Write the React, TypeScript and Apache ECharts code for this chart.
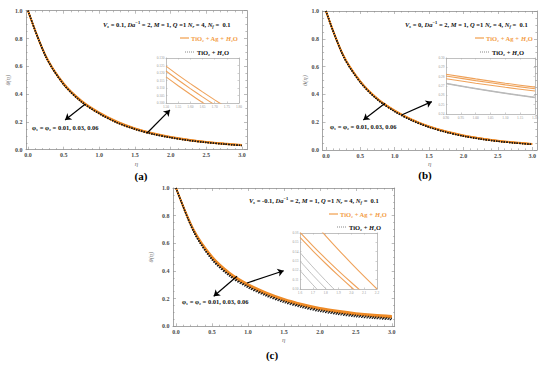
import React, { useEffect, useRef } from "react";
import * as echarts from "echarts";

// ---------------- data ----------------
const eta = [0, 0.25, 0.5, 0.75, 1, 1.25, 1.5, 1.75, 2, 2.25, 2.5, 2.75, 3];

// (a) Vs = 0.1
const thetaA_hybrid_001 = [1, 0.670, 0.470, 0.345, 0.260, 0.195, 0.148, 0.113, 0.088, 0.068, 0.053, 0.041, 0.031];
const thetaA_hybrid_003 = [1, 0.672, 0.473, 0.348, 0.263, 0.198, 0.151, 0.116, 0.090, 0.070, 0.055, 0.043, 0.033];
const thetaA_hybrid_006 = [1, 0.675, 0.477, 0.352, 0.267, 0.202, 0.154, 0.119, 0.093, 0.073, 0.057, 0.045, 0.035];
const thetaA_mono_001 = [1, 0.668, 0.468, 0.343, 0.258, 0.193, 0.146, 0.111, 0.086, 0.066, 0.051, 0.040, 0.030];
const thetaA_mono_003 = [1, 0.669, 0.469, 0.344, 0.259, 0.194, 0.147, 0.112, 0.087, 0.067, 0.052, 0.040, 0.030];
const thetaA_mono_006 = [1, 0.670, 0.471, 0.346, 0.261, 0.196, 0.149, 0.114, 0.088, 0.068, 0.053, 0.041, 0.031];

// (b) Vs = 0
const thetaB_hybrid_001 = [1, 0.680, 0.490, 0.365, 0.280, 0.215, 0.167, 0.130, 0.102, 0.081, 0.064, 0.052, 0.042];
const thetaB_hybrid_003 = [1, 0.682, 0.492, 0.367, 0.282, 0.217, 0.169, 0.132, 0.104, 0.083, 0.066, 0.053, 0.043];
const thetaB_hybrid_006 = [1, 0.684, 0.494, 0.369, 0.284, 0.219, 0.171, 0.134, 0.106, 0.084, 0.067, 0.054, 0.044];
const thetaB_mono_001 = [1, 0.677, 0.486, 0.361, 0.276, 0.211, 0.163, 0.127, 0.099, 0.078, 0.062, 0.050, 0.040];
const thetaB_mono_003 = [1, 0.678, 0.487, 0.362, 0.277, 0.212, 0.164, 0.128, 0.100, 0.079, 0.062, 0.050, 0.040];
const thetaB_mono_006 = [1, 0.679, 0.488, 0.363, 0.278, 0.213, 0.165, 0.128, 0.100, 0.079, 0.063, 0.051, 0.041];

// (c) Vs = -0.1
const thetaC_hybrid_001 = [1, 0.685, 0.495, 0.374, 0.294, 0.234, 0.187, 0.151, 0.122, 0.101, 0.084, 0.072, 0.064];
const thetaC_hybrid_003 = [1, 0.690, 0.500, 0.380, 0.300, 0.240, 0.193, 0.157, 0.128, 0.107, 0.090, 0.078, 0.070];
const thetaC_hybrid_006 = [1, 0.695, 0.506, 0.386, 0.306, 0.246, 0.199, 0.163, 0.134, 0.113, 0.096, 0.084, 0.076];
const thetaC_mono_001 = [1, 0.676, 0.480, 0.359, 0.279, 0.219, 0.172, 0.136, 0.107, 0.086, 0.069, 0.057, 0.048];
const thetaC_mono_003 = [1, 0.680, 0.485, 0.365, 0.285, 0.225, 0.178, 0.142, 0.113, 0.092, 0.075, 0.063, 0.053];
const thetaC_mono_006 = [1, 0.684, 0.490, 0.370, 0.290, 0.230, 0.183, 0.147, 0.118, 0.097, 0.080, 0.068, 0.058];

// insets (zoomed views)
const insetA_eta = [1.5, 1.55, 1.6, 1.65, 1.7, 1.75];
const insetA_hybrid_001 = [0.1174, 0.1115, 0.1058, 0.1003, 0.0950, 0.0899];
const insetA_hybrid_003 = [0.1213, 0.1153, 0.1096, 0.1041, 0.0988, 0.0937];
const insetA_hybrid_006 = [0.1246, 0.1186, 0.1129, 0.1074, 0.1021, 0.0970];

const insetB_eta = [0.9, 1.0, 1.1, 1.2];
const insetB_hybrid_001 = [0.2778, 0.2730, 0.2686, 0.2646];
const insetB_hybrid_003 = [0.2808, 0.2758, 0.2712, 0.2670];
const insetB_hybrid_006 = [0.2826, 0.2776, 0.2730, 0.2688];
const insetB_mono_001 = [0.2724, 0.2669, 0.2619, 0.2574];
const insetB_mono_003 = [0.2727, 0.2672, 0.2622, 0.2577];
const insetB_mono_006 = [0.2730, 0.2675, 0.2625, 0.2580];

const insetC_eta = [1.6, 1.7, 1.8, 1.9, 2.0, 2.1, 2.2];
const insetC_hybrid_001 = [0.1552, 0.1409, 0.1273, 0.1143, 0.1019, 0.0900, 0.0790];
const insetC_hybrid_003 = [0.1607, 0.1463, 0.1326, 0.1195, 0.1070, 0.0950, 0.0840];
const insetC_hybrid_006 = [0.1885, 0.1725, 0.1570, 0.1420, 0.1275, 0.1135, 0.1000];
const insetC_mono_001 = [0.1198, 0.1045, 0.0900, 0.0765, 0.0640, 0.0525, 0.0420];
const insetC_mono_003 = [0.1300, 0.1148, 0.1005, 0.0868, 0.0740, 0.0620, 0.0510];
const insetC_mono_006 = [0.1390, 0.1236, 0.1090, 0.0950, 0.0820, 0.0700, 0.0590];

// ticks
const xMajorTicks = [0, 0.5, 1, 1.5, 2, 2.5, 3];
const xMinorTicks = [0.1, 0.2, 0.3, 0.4, 0.6, 0.7, 0.8, 0.9, 1.1, 1.2, 1.3, 1.4, 1.6, 1.7, 1.8, 1.9, 2.1, 2.2, 2.3, 2.4, 2.6, 2.7, 2.8, 2.9];
const yMajorTicks = [0, 0.2, 0.4, 0.6, 0.8, 1];
const yMinorTicks = [0.05, 0.1, 0.15, 0.25, 0.3, 0.35, 0.45, 0.5, 0.55, 0.65, 0.7, 0.75, 0.85, 0.9, 0.95];

const insetA_xTicks = [1.5, 1.55, 1.6, 1.65, 1.7, 1.75, 1.8];
const insetA_yTicks = [0.1, 0.105, 0.11, 0.115, 0.12, 0.125, 0.13];
const insetB_xTicks = [0.9, 0.95, 1.0, 1.05, 1.1, 1.15, 1.2];
const insetB_yTicks = [0.24, 0.25, 0.26, 0.27, 0.28, 0.29, 0.3];
const insetC_xTicks = [1.6, 1.7, 1.8, 1.9, 2.0, 2.1, 2.2];
const insetC_yTicks = [0.1, 0.11, 0.12, 0.13, 0.14, 0.15, 0.16];

// arrows: [fromEta, fromTheta, toEta, toTheta]
const arrowsA = [[0.80, 0.327, 0.52, 0.214], [1.67, 0.120, 1.99, 0.286]];
const arrowsB = [[0.86, 0.336, 0.544, 0.216], [1.10, 0.252, 1.54, 0.348]];
const arrowsC = [[0.848, 0.362, 0.524, 0.217], [0.987, 0.313, 1.497, 0.402]];

const vsLabels = ["0.1", "0", "-0.1"];
const panelLetters = ["(a)", "(b)", "(c)"];
const phiText = "φ₁ = φ₂ = 0.01, 0.03, 0.06";

// ---------------- styles / layout ----------------
const FONT = "'Liberation Serif', 'DejaVu Serif', serif";
const ORANGE = "#EE8A26";
const ORANGE_TEXT = "#F39C45";
const INSET_GRAY = "#b8b8b8";
const FRAME = "#8f8f8f";
const TICK_LABEL = "#4a4a4a";

const mainLayout = [
  { left: 26, top: 10.7, width: 221, height: 139, xMin: -0.028, xMax: 3.07, xGap: 10.5, yGap: 12.8 },
  { left: 322.5, top: 11, width: 214.5, height: 139, xMin: -0.05, xMax: 3.07, xGap: 10.5, yGap: 8.5 },
  { left: 173, top: 188, width: 221.7, height: 138.3, xMin: -0.042, xMax: 3.04, xGap: 10, yGap: 19.5 },
];
const insetLayout = [
  { left: 166, top: 58, width: 73, height: 45 },
  { left: 446, top: 58, width: 89, height: 56 },
  { left: 300, top: 233, width: 77, height: 56 },
];
const legendLayout = [
  { row1: [103, 24], row2: [180, 38], row3: [185, 52], phi: [32, 127], letter: [141, 176] },
  { row1: [405, 24], row2: [475, 38], row3: [480, 52], phi: [330, 126], letter: [425, 175] },
  { row1: [249, 200], row2: [329, 214], row3: [337, 227], phi: [182, 301], letter: [272, 355] },
];

const rich = (color: string) => ({
  n: { fontFamily: FONT, fontSize: 6.5, fontWeight: "bold", fill: color, lineHeight: 9 },
  v: { fontFamily: FONT, fontSize: 6.5, fontWeight: "bold", fontStyle: "italic", fill: color, lineHeight: 9 },
  sub: { fontFamily: FONT, fontSize: 4.5, fontWeight: "bold", fontStyle: "italic", fill: color, lineHeight: 5, verticalAlign: "bottom" },
  sup: { fontFamily: FONT, fontSize: 4.5, fontWeight: "bold", fill: color, lineHeight: 5, verticalAlign: "top" },
});

function frameAxis(gi: number, position: string, min: number, max: number, ticks: number[], tickLen: number, label: any, lineShow: boolean, color: string, extra: any = {}) {
  return {
    type: "value",
    gridIndex: gi,
    position,
    min,
    max,
    axisLine: { show: lineShow, onZero: false, lineStyle: { color, width: 0.8 } },
    axisTick: { show: true, inside: true, length: tickLen, customValues: ticks, lineStyle: { color, width: 0.6 } },
    axisLabel: label ? { ...label, customValues: ticks } : { show: false },
    splitLine: { show: false },
    ...extra,
  };
}

function lineSeries(xi: number, yi: number, xs: number[], ys: number[], lineStyle: any, z: number) {
  return {
    type: "line",
    xAxisIndex: xi,
    yAxisIndex: yi,
    data: xs.map((e, i) => [e, ys[i]]),
    smooth: 0.3,
    showSymbol: false,
    symbol: "none",
    silent: true,
    z,
    lineStyle,
  };
}

function buildOption() {
  const grid: any[] = [];
  const xAxis: any[] = [];
  const yAxis: any[] = [];
  const series: any[] = [];
  const graphic: any[] = [];

  const hybridSets = [
    [thetaA_hybrid_001, thetaA_hybrid_003, thetaA_hybrid_006],
    [thetaB_hybrid_001, thetaB_hybrid_003, thetaB_hybrid_006],
    [thetaC_hybrid_001, thetaC_hybrid_003, thetaC_hybrid_006],
  ];
  const monoSets = [
    [thetaA_mono_001, thetaA_mono_003, thetaA_mono_006],
    [thetaB_mono_001, thetaB_mono_003, thetaB_mono_006],
    [thetaC_mono_001, thetaC_mono_003, thetaC_mono_006],
  ];
  const arrowSets = [arrowsA, arrowsB, arrowsC];

  const tickLabel = {
    show: true,
    fontSize: 6,
    fontFamily: FONT,
    fontWeight: "bold",
    color: TICK_LABEL,
    margin: 3.5,
    formatter: (v: number) => v.toFixed(1),
  };

  mainLayout.forEach((L, p) => {
    grid.push({ left: L.left, top: L.top, width: L.width, height: L.height });
    const gi = grid.length - 1;
    const xi = xAxis.length;
    const yi = yAxis.length;
    xAxis.push(
      frameAxis(gi, "bottom", L.xMin, L.xMax, xMajorTicks, 3, { ...tickLabel, margin: 2.5 }, true, FRAME, {
        name: "η",
        nameLocation: "middle",
        nameGap: L.xGap,
        nameTextStyle: { fontFamily: FONT, fontStyle: "italic", fontSize: 7, color: "#777" },
      }),
      frameAxis(gi, "top", L.xMin, L.xMax, xMajorTicks, 3, null, true, FRAME),
      frameAxis(gi, "bottom", L.xMin, L.xMax, xMinorTicks, 1.6, null, false, FRAME),
      frameAxis(gi, "top", L.xMin, L.xMax, xMinorTicks, 1.6, null, false, FRAME)
    );
    yAxis.push(
      frameAxis(gi, "left", 0, 1, yMajorTicks, 3, tickLabel, true, FRAME, {
        name: "θ(η)",
        nameLocation: "middle",
        nameGap: L.yGap,
        nameRotate: 90,
        nameTextStyle: { fontFamily: FONT, fontStyle: "italic", fontSize: 6.5, color: "#777" },
      }),
      frameAxis(gi, "right", 0, 1, yMajorTicks, 3, null, true, FRAME),
      frameAxis(gi, "left", 0, 1, yMinorTicks, 1.6, null, false, FRAME),
      frameAxis(gi, "right", 0, 1, yMinorTicks, 1.6, null, false, FRAME)
    );

    hybridSets[p].forEach((vals, k) => {
      const s: any = lineSeries(xi, yi, eta, vals, { color: ORANGE, width: 1.8 }, 3);
      if (k === 0) {
        s.markLine = {
          silent: true,
          animation: false,
          symbol: ["none", "arrow"],
          symbolSize: 6,
          label: { show: false },
          lineStyle: { color: "#000", width: 1.2, type: "solid" },
          data: arrowSets[p].map((a) => [{ coord: [a[0], a[1]] }, { coord: [a[2], a[3]] }]),
        };
      }
      series.push(s);
    });
    monoSets[p].forEach((vals) => {
      series.push(lineSeries(xi, yi, eta, vals, { color: "#1a1a1a", width: 1.3, type: [1.2, 1.4] }, 4));
    });
  });

  // insets
  const insetData = [
    { eta: insetA_eta, hybrid: [insetA_hybrid_001, insetA_hybrid_003, insetA_hybrid_006], mono: [] as number[][], xt: insetA_xTicks, yt: insetA_yTicks, fx: 2, fy: 3 },
    { eta: insetB_eta, hybrid: [insetB_hybrid_001, insetB_hybrid_003, insetB_hybrid_006], mono: [insetB_mono_001, insetB_mono_003, insetB_mono_006], xt: insetB_xTicks, yt: insetB_yTicks, fx: 2, fy: 2 },
    { eta: insetC_eta, hybrid: [insetC_hybrid_001, insetC_hybrid_003, insetC_hybrid_006], mono: [insetC_mono_001, insetC_mono_003, insetC_mono_006], xt: insetC_xTicks, yt: insetC_yTicks, fx: 1, fy: 2 },
  ];
  insetLayout.forEach((L, p) => {
    const D = insetData[p];
    grid.push({ left: L.left, top: L.top, width: L.width, height: L.height, show: true, backgroundColor: "#fff", borderWidth: 0 });
    const gi = grid.length - 1;
    const xi = xAxis.length;
    const yi = yAxis.length;
    const xr = [D.xt[0], D.xt[D.xt.length - 1]];
    const yr = [D.yt[0], D.yt[D.yt.length - 1]];
    const small = { show: true, fontSize: 3.5, fontFamily: FONT, color: "#999", margin: 1.5 };
    xAxis.push(
      frameAxis(gi, "bottom", xr[0], xr[1], D.xt, 1.5, { ...small, formatter: (v: number) => v.toFixed(D.fx) }, true, "#b0b0b0"),
      frameAxis(gi, "top", xr[0], xr[1], D.xt, 1.5, null, true, "#b0b0b0")
    );
    yAxis.push(
      frameAxis(gi, "left", yr[0], yr[1], D.yt, 1.5, { ...small, formatter: (v: number) => v.toFixed(D.fy) }, true, "#b0b0b0"),
      frameAxis(gi, "right", yr[0], yr[1], D.yt, 1.5, null, true, "#b0b0b0")
    );
    D.mono.forEach((vals) => {
      series.push(lineSeries(xi, yi, D.eta, vals, { color: INSET_GRAY, width: 0.9 }, 5));
    });
    D.hybrid.forEach((vals) => {
      series.push(lineSeries(xi, yi, D.eta, vals, { color: "#EFA25A", width: 1.1 }, 5));
    });
  });

  // legends and annotations
  legendLayout.forEach((G, p) => {
    const params =
      "{v|V}{sub|s}{n| = " + vsLabels[p] + ", }{v|Da}{sup|−1}{n| = 2, }{v|M}{n| = 1, }{v|Q}{n| =1 }{v|N}{sub|r}{n| = 4, }{v|N}{sub|f}{n| =  0.1}";
    graphic.push({
      type: "text", x: G.row1[0], y: G.row1[1], silent: true, z: 20,
      style: { text: params, rich: rich("#111"), align: "left", verticalAlign: "middle" },
    });
    graphic.push({
      type: "line", silent: true, z: 20,
      shape: { x1: G.row2[0], y1: G.row2[1], x2: G.row2[0] + 9, y2: G.row2[1] },
      style: { stroke: ORANGE, lineWidth: 1 },
    });
    graphic.push({
      type: "text", x: G.row2[0] + 11, y: G.row2[1], silent: true, z: 20,
      style: { text: "{n|TiO₂ + Ag + }{v|H}{n|₂O}", rich: rich(ORANGE_TEXT), align: "left", verticalAlign: "middle" },
    });
    graphic.push({
      type: "line", silent: true, z: 20,
      shape: { x1: G.row3[0], y1: G.row3[1], x2: G.row3[0] + 9, y2: G.row3[1] },
      style: { stroke: "#888", lineWidth: 1, lineDash: [1, 1] },
    });
    graphic.push({
      type: "text", x: G.row3[0] + 12, y: G.row3[1], silent: true, z: 20,
      style: { text: "{n|TiO₂ + }{v|H}{n|₂O}", rich: rich("#111"), align: "left", verticalAlign: "middle" },
    });
    graphic.push({
      type: "text", x: G.phi[0], y: G.phi[1], silent: true, z: 20,
      style: { text: phiText, fontFamily: FONT, fontSize: 6.5, fontWeight: "bold", fill: "#111", align: "left", verticalAlign: "middle" },
    });
    graphic.push({
      type: "text", x: G.letter[0], y: G.letter[1], silent: true, z: 20,
      style: { text: panelLetters[p], fontFamily: FONT, fontSize: 11, fontWeight: "bold", fill: "#000", align: "center", verticalAlign: "middle" },
    });
  });

  return {
    animation: false,
    backgroundColor: "#ffffff",
    grid,
    xAxis,
    yAxis,
    series,
    graphic,
  };
}

export default function App() {
  const ref = useRef<HTMLDivElement>(null);
  useEffect(() => {
    if (!ref.current) return;
    const chart = echarts.init(ref.current, null, { renderer: "svg" });
    chart.setOption(buildOption() as any);
    return () => chart.dispose();
  }, []);
  return <div ref={ref} style={{ position: "absolute", left: 0, top: 0, width: 550, height: 366 }} />;
}
